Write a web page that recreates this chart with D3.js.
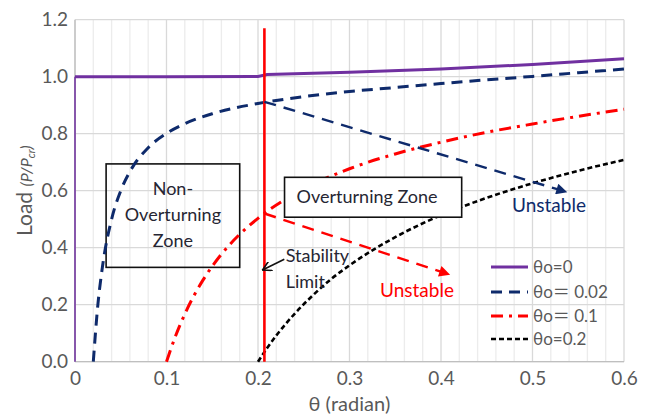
<!DOCTYPE html>
<html><head><meta charset="utf-8">
<script src="https://cdn.jsdelivr.net/npm/d3@7"></script>
<style>
html,body{margin:0;padding:0;background:#fff;}
svg{display:block;}
text{font-family:Lato,"Noto Sans CJK SC",sans-serif;}
</style></head>
<body>
<svg id="c" width="651" height="417"></svg>
<script>
// ---- data ----
const xTicks = [0, 0.1, 0.2, 0.3, 0.4, 0.5, 0.6];
const yTicks = [0, 0.2, 0.4, 0.6, 0.8, 1.0, 1.2];

const theta0 = [0, 0, 0.1, 0.2, 0.21, 0.3, 0.4, 0.5, 0.6];
const load0  = [0, 1.0, 1.0, 1.001, 1.0075, 1.0152, 1.0272, 1.0429, 1.0626];

const theta02 = [0.02,0.025,0.03,0.04,0.05,0.06,0.08,0.1,0.12,0.15,0.2,0.25,0.3,0.35,0.4,0.45,0.5,0.55,0.6];
const load02  = [0,0.200,0.333,0.500,0.600,0.667,0.751,0.801,0.835,0.870,0.906,0.930,0.948,0.962,0.976,0.989,1.001,1.014,1.027];

const theta1 = [0.1,0.11,0.12,0.14,0.16,0.18,0.2,0.25,0.3,0.35,0.4,0.45,0.5,0.55,0.6];
const load1  = [0,0.091,0.167,0.287,0.377,0.447,0.503,0.606,0.677,0.729,0.770,0.805,0.834,0.861,0.886];

const theta2 = [0.2,0.21,0.22,0.24,0.26,0.28,0.3,0.35,0.4,0.45,0.5,0.55,0.6];
const load2  = [0,0.048,0.092,0.168,0.233,0.290,0.338,0.437,0.514,0.575,0.626,0.670,0.708];

const legendPrefix = ["θo", "θo", "θo", "θo"];
const legendEq     = ["=", "＝", "＝", "="];
const legendValue  = ["0", " 0.02", " 0.1", "0.2"];

// annotations (data coordinates)
const stabilityTheta = 0.207;
const stabilityTop = 1.17;
const blueArrow = [[0.207, 0.912], [0.538, 0.595]];
const redArrow  = [[0.207, 0.52], [0.41, 0.305]];
const nonOverBox = [[0.034, 0.694], [0.180, 0.331]];
const overBox    = [[0.229, 0.647], [0.4226, 0.507]];
const nonOverLines = ["Non-", "Overturning", "Zone"];

// ---- drawing ----
const svg = d3.select("#c");
const x = d3.scaleLinear([0, 0.6], [75, 624]);
const y = d3.scaleLinear([0, 1.2], [361.7, 19.7]);
const textDark = "#262633";

const defs = svg.append("defs");
function marker(id, color) {
  defs.append("marker").attr("id", id).attr("viewBox", "0 0 10 10")
    .attr("refX", 10).attr("refY", 5).attr("markerWidth", 14).attr("markerHeight", 11)
    .attr("markerUnits", "userSpaceOnUse").attr("orient", "auto")
    .append("path").attr("d", "M0,0 L10,5 L0,10 Z").attr("fill", color);
}
marker("ab", "#0e2a6b");
marker("ar", "#ff0000");
defs.append("marker").attr("id", "ak").attr("viewBox", "0 0 10 10")
  .attr("refX", 9).attr("refY", 5).attr("markerWidth", 10).attr("markerHeight", 10)
  .attr("markerUnits", "userSpaceOnUse").attr("orient", "auto")
  .append("path").attr("d", "M0,0 L9,5 L0,10").attr("fill", "none").attr("stroke", "#111").attr("stroke-width", 1.6);

// grid
const g = svg.append("g");
g.selectAll(".vmin").data(d3.range(0, 31).map(i => i * 0.02)).join("line")
  .attr("x1", d => x(d)).attr("x2", d => x(d)).attr("y1", y(0)).attr("y2", y(1.2))
  .attr("stroke", d => Math.abs(d * 10 - Math.round(d * 10)) < 1e-6 ? "#d9d9d9" : "#ececec")
  .attr("stroke-width", 1.3);
g.selectAll(".h").data(yTicks).join("line")
  .attr("x1", x(0)).attr("x2", x(0.6)).attr("y1", d => y(d)).attr("y2", d => y(d))
  .attr("stroke", "#d9d9d9").attr("stroke-width", 1.3);
g.append("line").attr("x1", x(0)).attr("x2", x(0.6)).attr("y1", y(0)).attr("y2", y(0))
  .attr("stroke", "#bfbfbf").attr("stroke-width", 1.3);
g.append("line").attr("x1", x(0)).attr("x2", x(0)).attr("y1", y(0)).attr("y2", y(1.2))
  .attr("stroke", "#bfbfbf").attr("stroke-width", 1.3);

// axes
const xa = svg.append("g").attr("transform", `translate(0,${y(0)})`)
  .call(d3.axisBottom(x).tickValues(xTicks).tickSize(0).tickPadding(10)
    .tickFormat(d => d === 0 ? "0" : d3.format(".1f")(d)));
const ya = svg.append("g").attr("transform", `translate(${x(0)},0)`)
  .call(d3.axisLeft(y).tickValues(yTicks).tickSize(0).tickPadding(7).tickFormat(d3.format(".1f")));
[xa, ya].forEach(a => {
  a.select(".domain").remove();
  a.selectAll("text").attr("font-size", 19).attr("fill", "#595959").attr("font-family", "Lato, sans-serif");
});

// axis titles
svg.append("text").attr("x", (x(0) + x(0.6)) / 2).attr("y", 411).attr("text-anchor", "middle")
  .attr("font-size", 20).attr("fill", "#595959").text("θ (radian)");
const yt = svg.append("text").attr("transform", `translate(32,${(y(0) + y(1.2)) / 2}) rotate(-90)`)
  .attr("text-anchor", "middle").attr("fill", "#595959");
yt.append("tspan").attr("font-size", 21).text("Load ");
yt.append("tspan").attr("font-size", 16).attr("font-style", "italic").text(" (P/P");
yt.append("tspan").attr("font-size", 11).attr("font-style", "italic").attr("dy", 3).text("cr");
yt.append("tspan").attr("font-size", 16).attr("font-style", "italic").attr("dy", -3).text(")");

// non-overturning box (transparent)
svg.append("rect").attr("x", x(nonOverBox[0][0])).attr("y", y(nonOverBox[0][1]))
  .attr("width", x(nonOverBox[1][0]) - x(nonOverBox[0][0]))
  .attr("height", y(nonOverBox[1][1]) - y(nonOverBox[0][1]))
  .attr("fill", "none").attr("stroke", "#111").attr("stroke-width", 1.6);

// curves
const lineGen = d3.line().x(d => x(d[0])).y(d => y(d[1]));
const smooth = d3.line().x(d => x(d[0])).y(d => y(d[1])).curve(d3.curveMonotoneX);
const zip = (a, b) => a.map((v, i) => [v, b[i]]);
const series = [
  {pts: zip(theta0, load0), color: "#7030a0", dash: null, w: 3, gen: lineGen},
  {pts: zip(theta02, load02), color: "#0e2a6b", dash: "11,7", w: 3, gen: smooth},
  {pts: zip(theta1, load1), color: "#ff0000", dash: "12,6,3,6", w: 3, gen: smooth},
  {pts: zip(theta2, load2), color: "#000000", dash: "5,3", w: 2.6, gen: smooth}
];
// θo=0: thin vertical bifurcation segment, then thick load path
const p0 = series[0].pts;
svg.append("path").attr("d", lineGen(p0.slice(0, 2))).attr("fill", "none")
  .attr("stroke", "#7030a0").attr("stroke-width", 1.5);
svg.append("path").attr("d", lineGen(p0.slice(1))).attr("fill", "none")
  .attr("stroke", "#7030a0").attr("stroke-width", 3);
series.slice(1).forEach(s => {
  svg.append("path").attr("d", s.gen(s.pts)).attr("fill", "none")
    .attr("stroke", s.color).attr("stroke-width", s.w)
    .attr("stroke-dasharray", s.dash);
});

// overturning zone box (white fill)
svg.append("rect").attr("x", x(overBox[0][0])).attr("y", y(overBox[0][1]))
  .attr("width", x(overBox[1][0]) - x(overBox[0][0]))
  .attr("height", y(overBox[1][1]) - y(overBox[0][1]))
  .attr("fill", "#fff").attr("stroke", "#111").attr("stroke-width", 1.6);
svg.append("text").attr("x", (x(overBox[0][0]) + x(overBox[1][0])) / 2 - 6).attr("y", y(overBox[1][1]) - 14)
  .attr("text-anchor", "middle").attr("font-size", 18).attr("fill", textDark).text("Overturning Zone");

// non-overturning text
const ncx = (x(nonOverBox[0][0]) + x(nonOverBox[1][0])) / 2;
svg.selectAll(".nol").data(nonOverLines).join("text")
  .attr("x", ncx).attr("y", (d, i) => y(nonOverBox[0][1]) + 31 + i * 26)
  .attr("text-anchor", "middle").attr("font-size", 18).attr("fill", textDark).text(d => d);

// stability limit line
svg.append("line").attr("x1", x(stabilityTheta)).attr("x2", x(stabilityTheta))
  .attr("y1", y(0)).attr("y2", y(stabilityTop)).attr("stroke", "#ff0000").attr("stroke-width", 2.6);

// arrows
svg.append("line").attr("x1", x(blueArrow[0][0])).attr("y1", y(blueArrow[0][1]))
  .attr("x2", x(blueArrow[1][0])).attr("y2", y(blueArrow[1][1]))
  .attr("stroke", "#0e2a6b").attr("stroke-width", 2.4).attr("stroke-dasharray", "12,8")
  .attr("marker-end", "url(#ab)");
svg.append("line").attr("x1", x(redArrow[0][0])).attr("y1", y(redArrow[0][1]))
  .attr("x2", x(redArrow[1][0])).attr("y2", y(redArrow[1][1]))
  .attr("stroke", "#ff0000").attr("stroke-width", 2.4).attr("stroke-dasharray", "12,8")
  .attr("marker-end", "url(#ar)");

// stability limit label + arrow
svg.append("line").attr("x1", 284.3).attr("y1", 259.3).attr("x2", 262.5).attr("y2", 270)
  .attr("stroke", "#111").attr("stroke-width", 1.6).attr("marker-end", "url(#ak)");
svg.append("text").attr("x", 285.7).attr("y", 261.7).attr("font-size", 18).attr("fill", textDark).text("Stability");
svg.append("text").attr("x", 285.7).attr("y", 288).attr("font-size", 18).attr("fill", textDark).text("Limit");

// unstable labels
svg.append("text").attr("x", 380).attr("y", 297).attr("font-size", 19).attr("fill", "#ff0000").text("Unstable");
svg.append("text").attr("x", 512).attr("y", 212).attr("font-size", 19).attr("fill", "#0e2a6b").text("Unstable");

// legend
const legY = [267, 292, 316, 339];
const leg = svg.append("g");
series.forEach((s, i) => {
  leg.append("line").attr("x1", 491).attr("x2", 528).attr("y1", legY[i]).attr("y2", legY[i])
    .attr("stroke", s.color).attr("stroke-width", s.w).attr("stroke-dasharray", s.dash);
  const t = leg.append("text").attr("x", 533).attr("y", legY[i]).attr("dy", "0.35em")
    .attr("font-size", 17).attr("fill", "#595959");
  t.append("tspan").text(legendPrefix[i]);
  t.append("tspan").attr("font-family", legendEq[i] === "=" ? null : "'Noto Sans CJK SC'").text(legendEq[i]);
  t.append("tspan").text(legendValue[i]);
});
</script>
</body></html>
